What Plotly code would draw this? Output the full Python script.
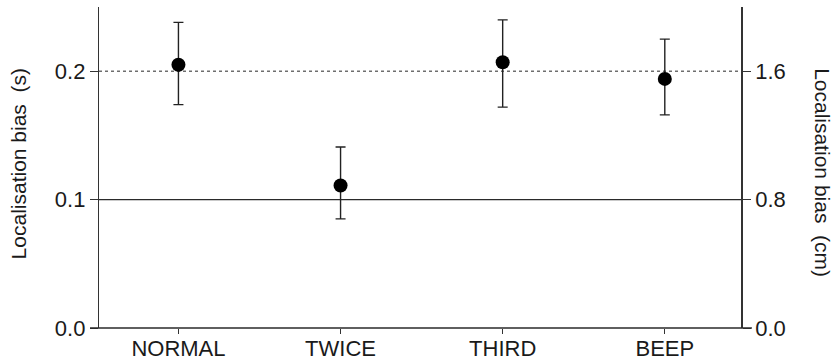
import plotly.graph_objects as go

# Conditions and localisation bias (seconds) with error bar extents
conditions = ["NORMAL", "TWICE", "THIRD", "BEEP"]
bias_s = [0.205, 0.111, 0.207, 0.194]
err_plus = [0.033, 0.030, 0.033, 0.031]
err_minus = [0.031, 0.026, 0.035, 0.028]

left_ticks = [0.0, 0.1, 0.2]
right_ticks = [0.0, 0.8, 1.6]
s_to_cm = 8.0  # 0.1 s corresponds to 0.8 cm
y_max = 0.25

left_title = "Localisation\u00a0bias\u00a0\u00a0(s)"
right_title = "Localisation\u00a0bias\u00a0\u00a0(cm)"

FONT = "Liberation Sans, Arial, Helvetica, sans-serif"
INK = "#1a1a1a"
TICK_FONT = dict(size=22, family=FONT, color=INK)
TITLE_FONT = dict(size=21, family=FONT, color=INK)

fig = go.Figure()

fig.add_trace(go.Scatter(
    x=conditions,
    y=bias_s,
    mode="markers",
    marker=dict(color="black", size=14),
    error_y=dict(type="data", symmetric=False, array=err_plus, arrayminus=err_minus,
                 color="#222222", thickness=1.4, width=5),
    showlegend=False,
    hoverinfo="skip",
))

# invisible trace that activates the right-hand (cm) axis
fig.add_trace(go.Scatter(
    x=conditions, y=[v * s_to_cm for v in bias_s], yaxis="y2",
    mode="markers", marker=dict(opacity=0), showlegend=False, hoverinfo="skip",
))

# horizontal reference lines at the labelled bias levels
fig.add_shape(type="line", xref="paper", yref="y", x0=0, x1=1, y0=left_ticks[2], y1=left_ticks[2],
              line=dict(color="#6e6e6e", width=1.4, dash="dot"), layer="below")
fig.add_shape(type="line", xref="paper", yref="y", x0=0, x1=1, y0=left_ticks[1], y1=left_ticks[1],
              line=dict(color="#2a2a2a", width=1.3), layer="below")
# baseline running slightly past both vertical axes
fig.add_shape(type="line", xref="paper", yref="paper", x0=-0.014, x1=1.017, y0=0, y1=0,
              line=dict(color="#2a2a2a", width=1.4))

# axis titles: left reads upward, right reads downward
fig.add_annotation(text=left_title, xref="paper", yref="paper", x=-0.126, y=0.51,
                   textangle=-90, showarrow=False, font=TITLE_FONT,
                   xanchor="center", yanchor="middle")
fig.add_annotation(text=right_title, xref="paper", yref="paper", x=1.128, y=0.485,
                   textangle=90, showarrow=False, font=TITLE_FONT,
                   xanchor="center", yanchor="middle")

fig.update_layout(
    width=838, height=364,
    margin=dict(l=99, r=97, t=7, b=36, autoexpand=False),
    paper_bgcolor="white", plot_bgcolor="white",
    font=dict(family=FONT, color=INK),
    xaxis=dict(
        type="category", range=[-0.49, 3.47], automargin=False,
        showgrid=False, zeroline=False, showline=False,
        ticks="outside", ticklen=5, tickwidth=1.2, tickcolor="#333",
        ticklabelstandoff=-4,
        tickfont=dict(size=22, family=FONT, color=INK),
    ),
    yaxis=dict(
        range=[0, y_max], tickvals=left_ticks, tickformat=".1f", automargin=False,
        showgrid=False, zeroline=False,
        showline=True, linecolor="#333", linewidth=1.4,
        ticks="outside", ticklen=8, tickwidth=1.2, tickcolor="#333",
        tickfont=TICK_FONT,
    ),
    yaxis2=dict(
        overlaying="y", side="right", anchor="x", automargin=False,
        range=[0, y_max * s_to_cm], tickvals=right_ticks, tickformat=".1f",
        showgrid=False, zeroline=False,
        showline=True, linecolor="#333", linewidth=1.6,
        ticks="outside", ticklen=8, tickwidth=1.2, tickcolor="#333",
        tickfont=TICK_FONT,
    ),
)

fig.write_html("out.html")
